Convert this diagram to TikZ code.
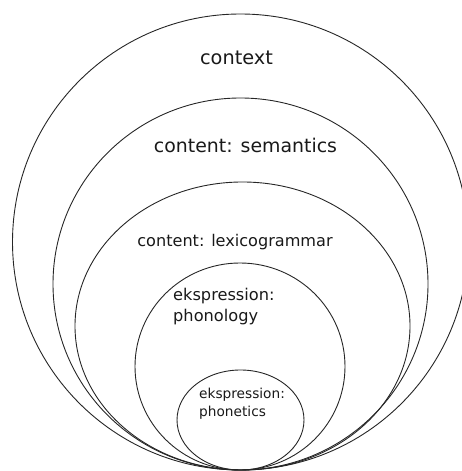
\documentclass[tikz,border=0pt]{standalone}
\usepackage{fontspec}
\setmainfont{DejaVu Sans}

\tikzstyle{ring} = [draw=black!85, line width=0.9pt]
\tikzstyle{lbl} = [inner sep=0pt, anchor=base, text=black!90]
\tikzstyle{stacked} = [inner sep=0pt, anchor=base west, align=left, text=black!90]

\begin{document}
\begin{tikzpicture}[x=1pt,y=1pt]
\clip (0,0) rectangle (462,471);
% strata, all resting on the same bottom point
\draw[ring] (240.5,229) circle [radius=228];
\draw[ring] (240.5,187) ellipse [x radius=187.5, y radius=186];
\draw[ring] (242.5,145) ellipse [x radius=167.5, y radius=144];
\draw[ring] (240,104.5) ellipse [x radius=105, y radius=103.5];
\draw[ring] (240.5,51) ellipse [x radius=63.5, y radius=50];
% labels
\node[lbl, font=\fontsize{19.3}{22}\selectfont] (ctx) at (236.5,406) {context};
\node[lbl, font=\fontsize{18.9}{22}\selectfont] (sem) at (245.5,318) {content: semantics};
\node[lbl, font=\fontsize{16.1}{20}\selectfont] (lex) at (235,224) {content: lexicogrammar};
\node[stacked, font=\fontsize{16.2}{21.5}\selectfont] (phon) at (173,149) {ekspression:\\phonology};
\node[stacked, font=\fontsize{13.7}{18}\selectfont] (phnt) at (199,54) {ekspression:\\phonetics};
\end{tikzpicture}
\end{document}
